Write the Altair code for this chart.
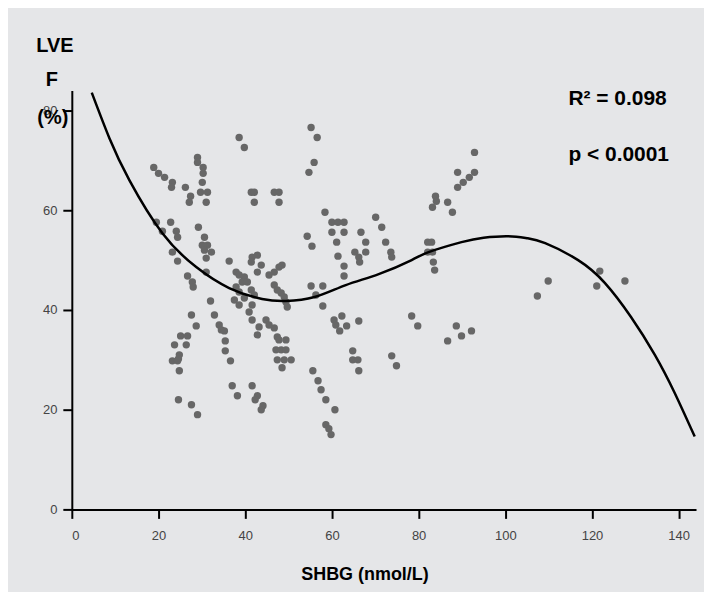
import altair as alt
import pandas as pd

# ---- data ----
shbg = [
    18.9, 20.0, 21.4, 23.2, 23.0, 26.2, 27.4, 27.1,
    29.0, 29.0, 30.3, 30.3, 30.1, 29.7, 31.3, 31.0,
    19.5, 22.8, 20.9, 24.1, 24.4, 23.2, 24.4, 26.7, 27.8, 28.0,
    29.2, 30.6, 30.1, 31.3, 30.6, 32.2, 31.0, 31.0,
    27.6, 32.9, 28.7, 25.1, 26.7, 23.7, 26.4, 24.8, 24.6, 23.2, 24.4, 24.8,
    24.6, 27.6, 29.0,
    32.0, 34.0, 34.5, 35.2, 35.4, 35.4, 36.6, 37.0, 38.2, 41.6, 42.8, 42.3, 44.1, 43.7,
    36.3, 37.9, 38.6, 39.8, 39.3, 40.5, 37.9, 38.6, 37.5, 38.6, 39.8,
    41.6, 42.8, 41.4, 43.7, 42.8, 45.5, 46.7, 47.8,
    41.4, 42.1, 41.6, 46.7, 47.4, 48.3, 49.0, 49.4, 49.7,
    40.9, 41.6, 43.2, 42.8, 44.8, 45.5, 46.7, 47.4, 47.8, 49.4,
    47.1, 48.3, 49.4, 47.4, 49.0, 50.6, 48.5,
    38.6, 39.8, 41.4, 42.1, 42.1, 46.7, 47.8, 47.8, 48.5,
    55.2, 56.6, 55.9, 54.7, 58.4, 60.0, 61.4, 62.8, 60.0, 62.8, 61.1,
    54.3, 55.4, 61.4, 62.8, 62.8, 66.7, 67.8, 67.8, 65.3, 66.2, 66.4,
    70.1, 71.5, 72.4, 73.6, 73.8, 55.2, 57.9, 56.3, 57.9,
    62.3, 60.5, 60.9, 61.8, 63.4, 66.2, 64.8, 64.8, 66.0, 66.2, 73.8, 74.9,
    55.6, 56.8, 57.5, 58.6, 60.7, 58.6, 59.3, 59.8,
    82.1, 83.0, 82.1, 83.2, 83.4, 83.7, 83.9, 84.1, 83.2, 86.7, 87.8,
    89.0, 92.9, 91.7, 90.3, 89.0, 92.9, 78.4, 79.8, 88.7, 86.7, 89.9, 92.2,
    109.9, 107.4, 121.8, 121.1, 127.6,
]
lvef = [
    68.6, 67.4, 66.6, 65.6, 64.6, 64.6, 62.8, 61.6,
    70.6, 69.6, 68.6, 67.4, 65.6, 63.6, 63.6, 61.6,
    57.6, 57.6, 55.8, 55.8, 54.6, 51.6, 49.8, 46.8, 45.6, 44.6,
    56.6, 54.6, 53.0, 53.0, 52.0, 51.6, 50.4, 47.6,
    39.0, 39.0, 36.8, 34.8, 34.8, 33.0, 33.0, 31.0, 30.2, 29.8, 29.8, 27.8,
    22.0, 21.0, 19.0,
    41.8, 37.0, 36.0, 35.8, 33.8, 31.8, 29.8, 24.8, 22.8, 24.8, 22.8, 22.0, 20.8, 20.0,
    49.8, 47.6, 47.0, 46.6, 45.6, 45.6, 44.6, 43.6, 42.0, 41.0, 42.4,
    50.6, 51.0, 49.6, 49.0, 47.6, 47.0, 47.6, 48.6,
    44.0, 43.0, 41.0, 45.0, 44.0, 43.4, 42.6, 41.6, 40.6,
    39.6, 38.0, 36.6, 35.0, 38.0, 37.0, 36.4, 34.6, 34.0, 34.0,
    32.0, 32.0, 32.0, 30.0, 30.0, 30.0, 28.4,
    74.6, 72.6, 63.6, 63.6, 61.6, 63.6, 63.6, 61.6, 49.0,
    76.6, 74.6, 69.6, 67.6, 59.6, 57.6, 57.6, 57.6, 55.6, 55.6, 53.6,
    54.8, 52.8, 50.8, 48.8, 46.8, 55.6, 53.6, 51.6, 51.6, 50.6, 49.6,
    58.6, 56.6, 53.6, 51.6, 50.6, 44.8, 44.8, 43.0, 40.8,
    38.8, 38.0, 37.0, 35.8, 36.8, 37.8, 31.8, 30.0, 30.0, 27.8, 30.8, 28.8,
    27.8, 25.8, 24.0, 22.0, 20.0, 17.0, 16.2, 15.0,
    53.6, 53.6, 51.6, 51.6, 49.6, 48.0, 62.8, 61.8, 60.6, 61.6, 59.6,
    67.6, 67.6, 66.6, 65.6, 64.6, 71.6, 38.8, 36.8, 36.8, 33.8, 34.8, 35.8,
    45.8, 42.8, 47.8, 44.8, 45.8,
]

# cubic fit line
curve_x = [4.6, 8.7, 13.3, 20.9, 28.7, 36.3, 43.9, 49.4, 56.0, 63.2, 70.8, 78.4,
           82.3, 89.9, 95.0, 100.7, 105.0, 109.2, 116.8, 123.0, 129.0, 134.5, 139.0, 143.7]
curve_y = [83.6, 74.4, 66.0, 55.4, 48.6, 44.4, 42.2, 41.8, 42.6, 45.0, 47.2, 50.0,
           51.6, 53.6, 54.5, 54.8, 54.4, 53.4, 50.0, 45.4, 38.6, 31.0, 23.5, 14.6]

x_ticks = [0, 20, 40, 60, 80, 100, 120, 140]
y_ticks = [0, 20, 40, 60, 80]

y_title_lines = ["LVE", "F", "(%)"]
x_title = "SHBG (nmol/L)"
stats_lines = ["R\u00b2 = 0.098", "p < 0.0001"]

FONT = "Liberation Sans, Arial, Helvetica, sans-serif"

pts = pd.DataFrame({"SHBG": shbg, "LVEF": lvef})
fit = pd.DataFrame({"SHBG": curve_x, "LVEF": curve_y})

xs = alt.Scale(domain=[0, 144], nice=False, zero=False)
ys = alt.Scale(domain=[0, 84], nice=False)

xaxis = alt.Axis(values=x_ticks, title=None, grid=False, tickSize=9, tickWidth=2,
                 domainWidth=2, domainColor="black", tickColor="black",
                 labelFontSize=13, labelColor="#444444", labelPadding=11, labelFont=FONT)
yaxis = alt.Axis(values=y_ticks, title=None, grid=False, tickSize=9, tickWidth=2,
                 domainWidth=2, domainColor="black", tickColor="black",
                 labelFontSize=13, labelColor="#444444", labelPadding=6, labelFont=FONT)

points = alt.Chart(pts).mark_circle(size=55, color="#676767", opacity=1).encode(
    x=alt.X("SHBG:Q", scale=xs, axis=xaxis),
    y=alt.Y("LVEF:Q", scale=ys, axis=yaxis),
)

line = alt.Chart(fit).mark_line(color="black", strokeWidth=2.5, interpolate="natural", clip=True).encode(
    x=alt.X("SHBG:Q", scale=xs),
    y=alt.Y("LVEF:Q", scale=ys),
)

def label(txt, px, py, align="center", size=18):
    return alt.Chart(pd.DataFrame({"t": [txt]})).mark_text(
        font=FONT, fontSize=size, fontWeight="bold", color="black",
        align=align, baseline="middle"
    ).encode(text="t:N", x=alt.value(px), y=alt.value(py))

layers = [points, line,
          label(y_title_lines[0], -17, -45, size=20),
          label(y_title_lines[1], -20, -11, size=20),
          label(y_title_lines[2], -19, 27, size=20),
          label(x_title, 294, 486),
          label(stats_lines[0], 498, 8, align="left", size=21),
          label(stats_lines[1], 498, 65, align="left", size=21)]

chart = alt.layer(*layers).properties(
    width=626, height=420,
    autosize=alt.AutoSizeParams(type="none"),
    padding={"left": 64, "top": 82, "right": 8, "bottom": 82},
    background="#e5e6e8",
).configure_view(stroke=None)

chart.save("out.html", embed_options={"renderer": "svg", "actions": False})
